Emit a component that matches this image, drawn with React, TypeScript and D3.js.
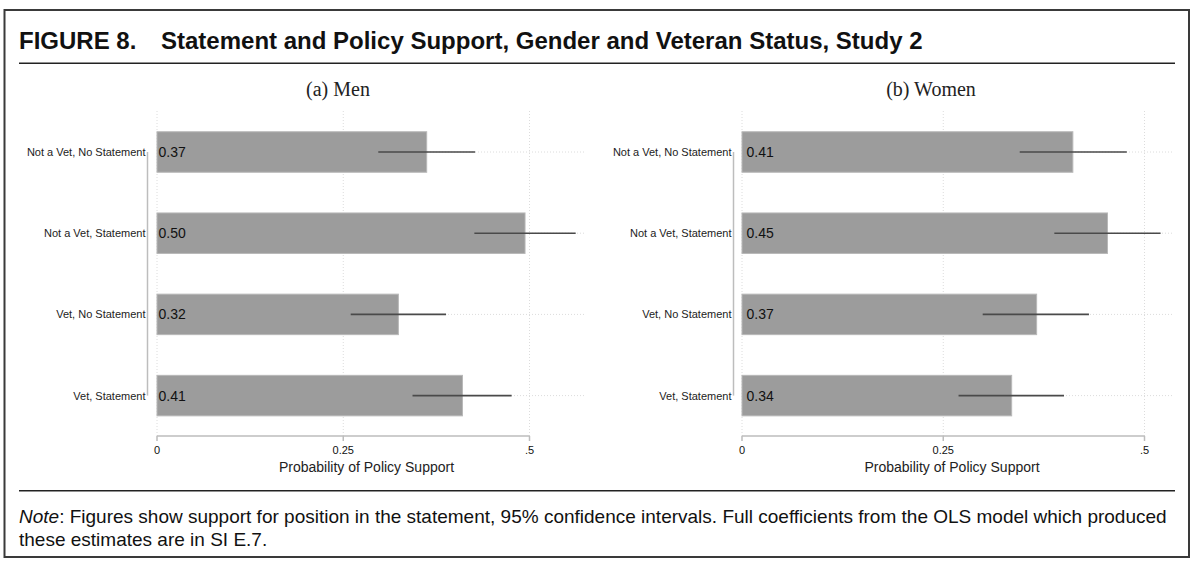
import React from "react";
import * as d3 from "d3";

const categories = [
  "Not a Vet, No Statement",
  "Not a Vet, Statement",
  "Vet, No Statement",
  "Vet, Statement",
];

const menMean = [0.362, 0.494, 0.324, 0.41];
const menLow = [0.297, 0.426, 0.26, 0.343];
const menHigh = [0.427, 0.562, 0.388, 0.476];
const menLabels = ["0.37", "0.50", "0.32", "0.41"];

const womenMean = [0.411, 0.454, 0.366, 0.335];
const womenLow = [0.345, 0.388, 0.299, 0.269];
const womenHigh = [0.478, 0.52, 0.431, 0.4];
const womenLabels = ["0.41", "0.45", "0.37", "0.34"];

const xTicks = [0, 0.25, 0.5];
const xTickLabels = ["0", "0.25", ".5"];

const SANS = "'Liberation Sans', Arial, Helvetica, sans-serif";
const SERIF = "'Liberation Serif', 'Times New Roman', serif";

type PanelProps = {
  title: string;
  titleX: number;
  x0: number;
  x5: number;
  gridEnd: number;
  axisX: number;
  labelOffset: number;
  mean: number[];
  low: number[];
  high: number[];
  labels: string[];
};

function Panel(p: PanelProps) {
  const x = d3.scaleLinear().domain([0, 0.5]).range([p.x0, p.x5]);
  const y = d3.scalePoint<string>().domain(categories).range([152, 395.6]);
  const barH = 40.5;
  const gridTop = 111;
  const axisY = 436;
  return (
    <g>
      <text x={p.titleX} y={96} textAnchor="middle" fontFamily={SERIF} fontSize={20} fill="#222">
        {p.title}
      </text>
      {xTicks.map((t) => (
        <line key={"vg" + t} x1={x(t)} x2={x(t)} y1={gridTop} y2={axisY}
          stroke="#dcdcdc" strokeWidth={1} strokeDasharray="1,2" />
      ))}
      {categories.map((c) => (
        <line key={"hg" + c} x1={p.x0} x2={p.gridEnd} y1={y(c)} y2={y(c)}
          stroke="#dcdcdc" strokeWidth={1} strokeDasharray="1,2" />
      ))}
      {categories.map((c, i) => (
        <rect key={"b" + c} x={x(0)} y={(y(c) as number) - barH / 2}
          width={x(p.mean[i]) - x(0)} height={barH}
          fill="#9c9c9c" stroke="#b8b8b8" strokeWidth={1} />
      ))}
      {categories.map((c, i) => (
        <line key={"ci" + c} x1={x(p.low[i])} x2={x(p.high[i])} y1={y(c)} y2={y(c)}
          stroke="#4a4a4a" strokeWidth={1.6} />
      ))}
      {categories.map((c, i) => (
        <text key={"v" + c} x={x(0) + p.labelOffset} y={(y(c) as number) + 5}
          fontFamily={SANS} fontSize={14} fill="#111">
          {p.labels[i]}
        </text>
      ))}
      <line x1={p.axisX} x2={p.axisX} y1={y(categories[0])} y2={y(categories[3])}
        stroke="#bdbdbd" strokeWidth={1.5} />
      {categories.map((c) => (
        <text key={"yl" + c} x={p.axisX - 2} y={(y(c) as number) + 4} textAnchor="end"
          fontFamily={SANS} fontSize={11} fill="#222">
          {c}
        </text>
      ))}
      <line x1={x(0)} x2={x(0.5)} y1={axisY} y2={axisY} stroke="#bdbdbd" strokeWidth={1.5} />
      {xTicks.map((t, i) => (
        <g key={"xt" + t}>
          <line x1={x(t)} x2={x(t)} y1={axisY} y2={axisY + 5} stroke="#bdbdbd" strokeWidth={1.5} />
          <text x={x(t)} y={454} textAnchor="middle" fontFamily={SANS} fontSize={11} fill="#111">
            {xTickLabels[i]}
          </text>
        </g>
      ))}
      <text x={(p.x0 + p.gridEnd) / 2 - 5} y={472} textAnchor="middle" fontFamily={SANS}
        fontSize={14} fill="#222">
        Probability of Policy Support
      </text>
    </g>
  );
}

export default function App() {
  return (
    <svg width={1200} height={574} viewBox="0 0 1200 574"
      style={{ position: "absolute", left: 0, top: 0, background: "#fff" }}>
      <rect x={0} y={0} width={1200} height={574} fill="#fff" />
      <rect x={4.5} y={10} width={1184.5} height={547} fill="none" stroke="#3a3a3a" strokeWidth={2} />
      <text x={19} y={49} fontFamily={SANS} fontWeight="bold" fontSize={24} fill="#111">
        FIGURE 8.
      </text>
      <text x={161} y={49} fontFamily={SANS} fontWeight="bold" fontSize={24} fill="#111">
        Statement and Policy Support, Gender and Veteran Status, Study 2
      </text>
      <line x1={19} x2={1175} y1={63.3} y2={63.3} stroke="#222" strokeWidth={1.6} />

      <Panel title="(a) Men" titleX={338} x0={157} x5={529.5} gridEnd={586} axisX={147.5}
        labelOffset={1.5} mean={menMean} low={menLow} high={menHigh} labels={menLabels} />
      <Panel title="(b) Women" titleX={931} x0={742} x5={1144.5} gridEnd={1172} axisX={733.5}
        labelOffset={4.5} mean={womenMean} low={womenLow} high={womenHigh} labels={womenLabels} />

      <line x1={19} x2={1175} y1={490.7} y2={490.7} stroke="#222" strokeWidth={1.6} />
      <text x={19} y={523} fontFamily={SANS} fontSize={19} fill="#111">
        <tspan fontStyle="italic">Note</tspan>
        : Figures show support for position in the statement, 95% confidence intervals. Full coefficients from the OLS model which produced
      </text>
      <text x={19} y={546} fontFamily={SANS} fontSize={19} fill="#111">
        these estimates are in SI E.7.
      </text>
    </svg>
  );
}
